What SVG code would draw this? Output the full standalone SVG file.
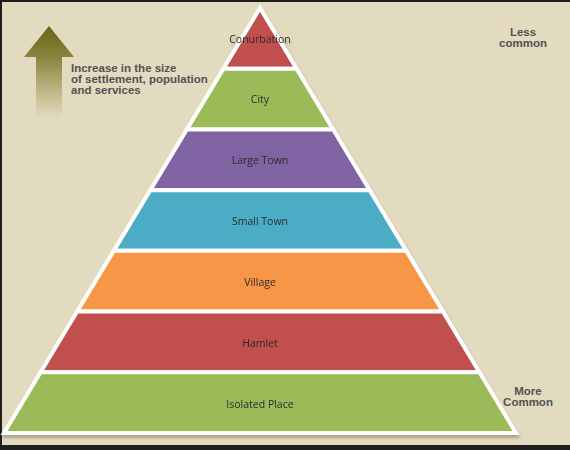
<svg xmlns="http://www.w3.org/2000/svg" width="570" height="450" viewBox="0 0 570 450">
<defs>
<linearGradient id="arrowGrad" gradientUnits="userSpaceOnUse" x1="0" y1="26" x2="0" y2="118">
<stop offset="0" stop-color="#666414"/>
<stop offset="0.35" stop-color="#8a8640"/>
<stop offset="0.7" stop-color="#bdb686"/>
<stop offset="1" stop-color="#e3dbc0"/>
</linearGradient>
<filter id="shadow" x="-5%" y="-5%" width="110%" height="115%">
<feDropShadow dx="1" dy="3" stdDeviation="1.5" flood-color="#6b5e40" flood-opacity="0.45"/>
</filter>
<style>
.band{stroke:#ffffff;stroke-width:4;stroke-linejoin:miter}
.lbl{font-family:"Open Sans","Liberation Sans",sans-serif;font-size:10.5px;fill:#2b2b2b;text-anchor:middle}
.side{font-family:"Liberation Sans",Arial,sans-serif;font-size:11.5px;font-weight:bold;fill:#525252}
</style>
</defs>
<rect x="0" y="0" width="570" height="450" fill="#1f1f1f"/>
<rect x="2" y="2" width="568" height="443" fill="#e3dbc0"/>
<g id="arrow">
<path d="M49,26 L74,57 L62,57 L62,118 L36,118 L36,57 L24,57 Z" fill="url(#arrowGrad)"/>
<text class="side" x="71" y="72">Increase in the size</text>
<text class="side" x="71" y="83">of settlement, population</text>
<text class="side" x="71" y="94">and services</text>
</g>
<g id="less-common">
<text class="side" x="523" y="36" text-anchor="middle">Less</text>
<text class="side" x="523" y="47" text-anchor="middle">common</text>
</g>
<g id="more-common">
<text class="side" x="528" y="395" text-anchor="middle">More</text>
<text class="side" x="528" y="406" text-anchor="middle">Common</text>
</g>
<g id="pyramid" filter="url(#shadow)">
<g id="conurbation">
<polygon class="band" fill="#c0504d" points="260,8 223.43,68.71 296.57,68.71"/>
<text class="lbl" x="260" y="43">Conurbation</text>
</g>
<g id="city">
<polygon class="band" fill="#9bbb59" points="223.43,68.71 296.57,68.71 333.14,129.43 186.86,129.43"/>
<text class="lbl" x="260" y="103">City</text>
</g>
<g id="large-town">
<polygon class="band" fill="#8064a2" points="186.86,129.43 333.14,129.43 369.71,190.14 150.29,190.14"/>
<text class="lbl" x="260" y="164">Large Town</text>
</g>
<g id="small-town">
<polygon class="band" fill="#4bacc6" points="150.29,190.14 369.71,190.14 406.29,250.86 113.71,250.86"/>
<text class="lbl" x="260" y="225">Small Town</text>
</g>
<g id="village">
<polygon class="band" fill="#f79646" points="113.71,250.86 406.29,250.86 442.86,311.57 77.14,311.57"/>
<text class="lbl" x="260" y="286">Village</text>
</g>
<g id="hamlet">
<polygon class="band" fill="#c0504d" points="77.14,311.57 442.86,311.57 479.43,372.29 40.57,372.29"/>
<text class="lbl" x="260" y="347">Hamlet</text>
</g>
<g id="isolated-place">
<polygon class="band" fill="#9bbb59" points="40.57,372.29 479.43,372.29 516,433 4,433"/>
<text class="lbl" x="260" y="408">Isolated Place</text>
</g>
</g>
<g id="connectors"/>
</svg>
